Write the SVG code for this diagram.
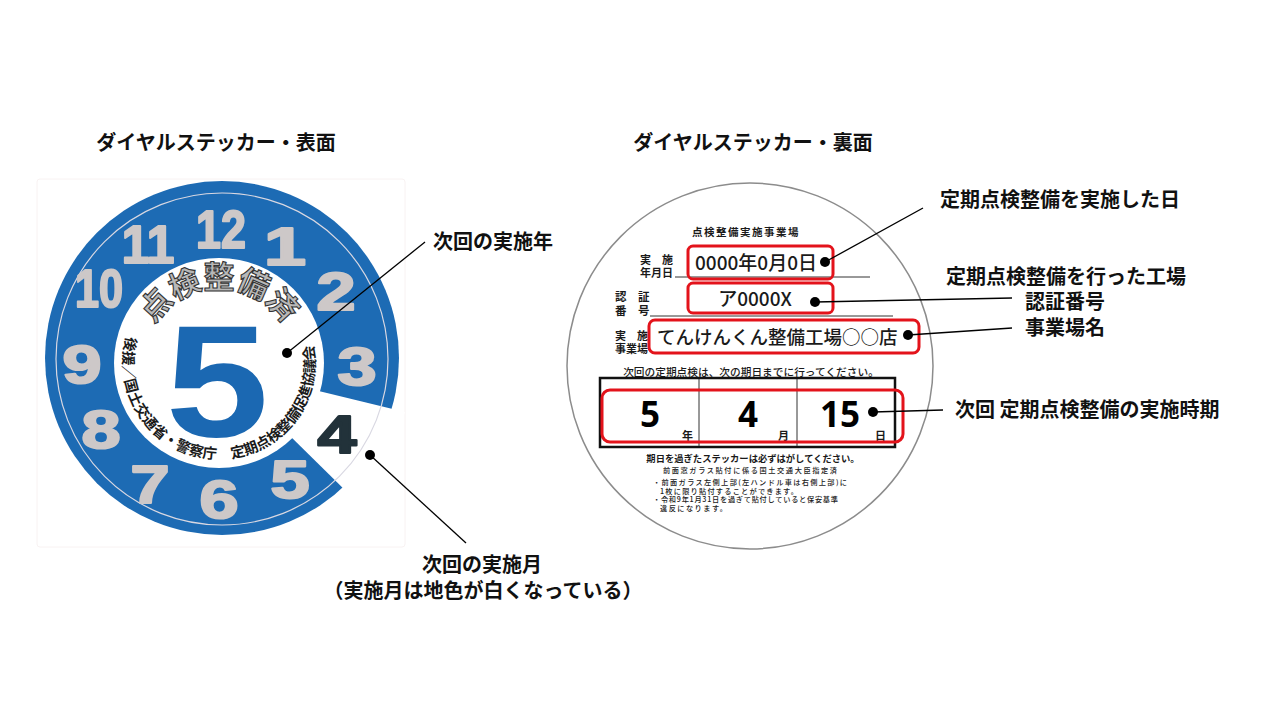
<svg xmlns="http://www.w3.org/2000/svg" width="1280" height="720" viewBox="0 0 1280 720">
<style>
.lbl{font-family:"Noto Sans CJK JP","Noto Sans",sans-serif;font-size:20px;font-weight:700;fill:#111;}
.num{font-family:"Liberation Sans",Arial,sans-serif;font-weight:700;font-size:54px;fill:#cdc8c8;stroke:#cdc8c8;stroke-width:2.2;stroke-linejoin:round;text-anchor:middle;}
.lead{stroke:#000;stroke-width:1.3;fill:none;}
.dot{fill:#000;}
.red{fill:none;stroke:#e3131b;stroke-width:3;}
.sm{font-family:"Noto Sans CJK JP","Noto Sans",sans-serif;font-weight:700;fill:#1a1a1a;}
.dig{font-family:"Noto Sans","Liberation Sans",sans-serif;font-weight:700;font-size:35px;fill:#000;text-anchor:middle;}
</style>
<defs>
<path id="topArc" d="M 144 363 A 75 75 0 0 1 294 363"/>
<path id="botArc" d="M 128.8 330.2 A 96 96 0 1 0 309.2 330.2"/>
</defs>
<rect width="1280" height="720" fill="#fff"/>

<g id="titles">
<text class="lbl" x="216" y="150" font-size="21" text-anchor="middle">ダイヤルステッカー・表面</text>
<text class="lbl" x="753" y="150" font-size="21" text-anchor="middle">ダイヤルステッカー・裏面</text>
</g>

<g id="front-sticker">
<rect x="37" y="179" width="368" height="368" rx="3" fill="#fff" stroke="#f8f2f2" stroke-width="1"/>
<circle cx="222" cy="358" r="177" fill="#1d6bb4"/>
<path d="M 220 367 L 405 412 A 190 190 0 0 1 352 497 Z" fill="#fff"/>
<circle cx="222" cy="359" r="166" fill="none" stroke="#d9d8e2" stroke-width="1.2"/>
<text class="num" font-size="58" transform="translate(221,248) scale(0.83,1)">12</text>
<text class="num" transform="translate(285,265) scale(1.4,1)">1</text>
<text class="num" transform="translate(336,310) scale(1.3,1)">2</text>
<text class="num" transform="translate(357,385) scale(1.3,1)">3</text>
<text class="num" transform="translate(337,453) scale(1.3,1)" style="fill:#22323a;stroke:#22323a">4</text>
<text class="num" transform="translate(290,498) scale(1.3,1)">5</text>
<text class="num" transform="translate(219,518) scale(1.3,1)">6</text>
<text class="num" transform="translate(150,503) scale(1.3,1)">7</text>
<text class="num" transform="translate(101,448) scale(1.3,1)">8</text>
<text class="num" transform="translate(82,383) scale(1.3,1)">9</text>
<text class="num" transform="translate(99,307) scale(0.8,1)">10</text>
<text class="num" transform="translate(148,263) scale(0.92,1)">11</text>
<circle cx="219" cy="363" r="105" fill="#fff"/>
<text font-family="Liberation Sans, Arial, sans-serif" font-weight="700" font-size="160" fill="#1b68b2" text-anchor="middle" transform="translate(217,436) scale(1.16,1)">5</text>
<text font-family="Noto Sans CJK JP, sans-serif" font-weight="700" font-size="31" fill="#b8b8b8" stroke="#333" stroke-width="1.1"><textPath href="#topArc" startOffset="50%" text-anchor="middle">点検整備済</textPath></text>
<text class="sm" font-size="14.5"><textPath href="#botArc" startOffset="6.7" textLength="175" lengthAdjust="spacing">後援／国土交通省・警察庁</textPath></text>
<text class="sm" font-size="14.5"><textPath href="#botArc" startOffset="197" textLength="156" lengthAdjust="spacing">定期点検整備促進協議会</textPath></text>
</g>

<g id="back-sticker">
<circle cx="750" cy="366" r="183" fill="#fff" stroke="#8c8c8c" stroke-width="1.5"/>
<text class="sm" x="746" y="236" font-size="10.5" letter-spacing="1.5" text-anchor="middle">点検整備実施事業場</text>
<text class="sm" x="640" y="264" font-size="11">実　施</text>
<text class="sm" x="640" y="277" font-size="11">年月日</text>
<line x1="675" y1="277" x2="870" y2="277" stroke="#333" stroke-width="1"/>
<text class="sm" x="615" y="301" font-size="11.5">認　証</text>
<text class="sm" x="615" y="315" font-size="11.5">番　号</text>
<line x1="650" y1="316" x2="893" y2="316" stroke="#333" stroke-width="1"/>
<text class="sm" x="615" y="340" font-size="11">実　施</text>
<text class="sm" x="615" y="353" font-size="11">事業場</text>
<rect class="red" x="688" y="246" width="145" height="33" rx="5"/>
<text class="sm" x="695" y="270" font-size="19" style="font-weight:500">0000年0月0日</text>
<rect class="red" x="688" y="283" width="145" height="30" rx="5"/>
<text class="sm" x="755" y="306" font-size="19" text-anchor="middle" style="font-weight:500">ア0000X</text>
<rect class="red" x="649" y="320" width="270" height="33" rx="6"/>
<text class="sm" x="657" y="344" font-size="18.5" style="font-weight:500">てんけんくん整備工場○○店</text>
<text class="sm" x="751" y="376" font-size="10.7" text-anchor="middle" style="font-weight:500">次回の定期点検は、次の期日までに行ってください。</text>
<rect x="600" y="378" width="295" height="69" fill="none" stroke="#111" stroke-width="2.5"/>
<line x1="699" y1="379" x2="699" y2="446" stroke="#333" stroke-width="1"/>
<line x1="797" y1="379" x2="797" y2="446" stroke="#333" stroke-width="1"/>
<text class="dig" x="650" y="427">5</text>
<text class="dig" x="748" y="427">4</text>
<text class="dig" x="840" y="427">15</text>
<text class="sm" x="682" y="440" font-size="11">年</text>
<text class="sm" x="778" y="440" font-size="11">月</text>
<text class="sm" x="875" y="440" font-size="11">日</text>
<rect class="red" x="602" y="390" width="301" height="52" rx="8"/>
<text class="sm" x="753" y="462" font-size="9.3" text-anchor="middle">期日を過ぎたステッカーは必ずはがしてください。</text>
<text class="sm" x="663" y="473" font-size="7.2" textLength="174" lengthAdjust="spacing" style="font-weight:500">前面窓ガラス貼付に係る国土交通大臣指定済</text>
<text class="sm" x="653" y="485" font-size="7.2" textLength="194" lengthAdjust="spacing" style="font-weight:500">・前面ガラス左側上部(左ハンドル車は右側上部)に</text>
<text class="sm" x="660" y="494" font-size="7.2" textLength="138" lengthAdjust="spacing" style="font-weight:500">1枚に限り貼付することができます。</text>
<text class="sm" x="653" y="502" font-size="7.2" textLength="185" lengthAdjust="spacing" style="font-weight:500">・令和9年1月31日を過ぎて貼付していると保安基準</text>
<text class="sm" x="660" y="511" font-size="7.2" textLength="67" lengthAdjust="spacing" style="font-weight:500">違反になります。</text>
</g>

<g id="connectors">
<line class="lead" x1="287" y1="353" x2="425" y2="242"/>
<circle class="dot" cx="287" cy="353" r="5"/>
<line class="lead" x1="370" y1="455" x2="466" y2="543"/>
<circle class="dot" cx="370" cy="455" r="5"/>
<line class="lead" x1="825" y1="262" x2="923" y2="208"/>
<circle class="dot" cx="825" cy="262" r="5"/>
<line class="lead" x1="815" y1="302" x2="1012" y2="298"/>
<circle class="dot" cx="815" cy="302" r="5"/>
<line class="lead" x1="908" y1="335" x2="1012" y2="328" stroke="#555"/>
<circle class="dot" cx="908" cy="335" r="5"/>
<line class="lead" x1="873" y1="412" x2="943" y2="410"/>
<circle class="dot" cx="873" cy="412" r="5"/>
</g>

<g id="labels">
<text class="lbl" x="433" y="249">次回の実施年</text>
<text class="lbl" x="482" y="572" text-anchor="middle">次回の実施月</text>
<text class="lbl" x="483" y="598" font-size="18.5" text-anchor="middle">（実施月は地色が白くなっている）</text>
<text class="lbl" x="1060" y="207" text-anchor="middle">定期点検整備を実施した日</text>
<text class="lbl" x="1066" y="284" text-anchor="middle">定期点検整備を行った工場</text>
<text class="lbl" x="1065" y="309" text-anchor="middle">認証番号</text>
<text class="lbl" x="1065" y="335" text-anchor="middle">事業場名</text>
<text class="lbl" x="955" y="417">次回 定期点検整備の実施時期</text>
</g>
</svg>
